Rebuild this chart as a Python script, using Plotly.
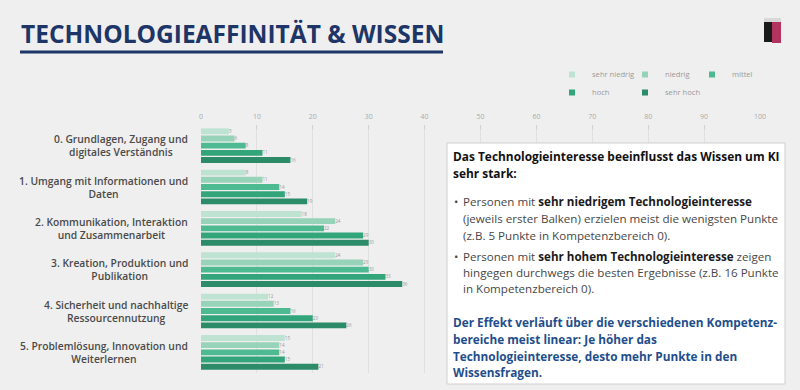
import plotly.graph_objects as go

categories = [
    "0. Grundlagen, Zugang und<br>digitales Verständnis",
    "1. Umgang mit Informationen und<br>Daten",
    "2. Kommunikation, Interaktion<br>und Zusammenarbeit",
    "3. Kreation, Produktion und<br>Publikation",
    "4. Sicherheit und nachhaltige<br>Ressourcennutzung",
    "5. Problemlösung, Innovation und<br>Weiterlernen",
]
levels = ["sehr niedrig", "niedrig", "mittel", "hoch", "sehr hoch"]
sehr_niedrig = [5, 8, 18, 24, 12, 15]
niedrig = [6, 11, 24, 29, 13, 14]
mittel = [8, 14, 22, 30, 16, 14]
hoch = [11, 15, 29, 33, 20, 15]
sehr_hoch = [16, 19, 30, 36, 26, 21]
series = [sehr_niedrig, niedrig, mittel, hoch, sehr_hoch]
colors = ["#bfe3d2", "#97d3b8", "#4dba92", "#33a57b", "#2c8c69"]
x_ticks = list(range(0, 101, 10))

W, H = 800, 390
L, R, T, B = 201, 40, 125, 17
PW, PH = W - L - R, H - T - B

def px(x):
    return (x - L) / PW

def py(y):
    return (H - B - y) / PH

FONT = "Open Sans"
fig = go.Figure()
idx = list(range(len(categories)))
for name, vals, col in zip(levels, series, colors):
    fig.add_trace(go.Bar(
        y=idx, x=vals, orientation="h", name=name, marker_color=col,
        marker_line_width=0, text=vals, textposition="outside",
        textfont=dict(size=7, color="#9a9a9a", family=FONT),
        cliponaxis=False, showlegend=False, hoverinfo="x+name",
    ))

# legend entries (one legend per entry, laid out in two rows)
legend_ids = ["legend", "legend2", "legend3", "legend4", "legend5"]
for name, col, lid in zip(levels, colors, legend_ids):
    fig.add_trace(go.Scatter(
        x=[None], y=[None], mode="markers", name=name,
        marker=dict(symbol="square", size=6, color=col), legend=lid,
    ))

annotations = []
for i, cat in enumerate(categories):
    annotations.append(dict(
        x=px(190), xref="paper", y=i, yref="y", text=cat, showarrow=False,
        xanchor="right", yanchor="middle", align="center",
        font=dict(family=FONT, size=10.3, color="#4a4a4a", weight=600),
    ))

annotations.append(dict(
    x=px(19), xref="paper", y=py(33), yref="paper", text="<b>TECHNOLOGIEAFFINITÄT & WISSEN</b>",
    showarrow=False, xanchor="left", yanchor="middle",
    font=dict(family=FONT, size=24.5, color="#1d3567"),
))

def line(text, x, y, size, color):
    annotations.append(dict(
        x=px(x), xref="paper", y=py(y), yref="paper", text=text,
        showarrow=False, xanchor="left", yanchor="middle", align="left",
        font=dict(family=FONT, size=size, color=color),
    ))

HEAD = "#111111"
BODY = "#474747"
BLUE = "#1f4e8c"
line("<b>Das Technologieinteresse beeinflusst das Wissen um KI</b>", 451, 156, 11.9, HEAD)
line("<b>sehr stark:</b>", 451, 173, 11.9, HEAD)
line("•", 452, 201, 11.6, BODY)
line("Personen mit <b><span style='color:#1a1a1a'>sehr niedrigem Technologieinteresse</span></b>",
     461, 201, 11.6, BODY)
line("(jeweils erster Balken) erzielen meist die wenigsten Punkte", 461, 218, 11.6, BODY)
line("(z.B. 5 Punkte in Kompetenzbereich 0).", 461, 235, 11.6, BODY)
line("•", 452, 256, 11.6, BODY)
line("Personen mit <b><span style='color:#1a1a1a'>sehr hohem Technologieinteresse</span></b> zeigen",
     461, 256, 11.6, BODY)
line("hingegen durchwegs die besten Ergebnisse (z.B. 16 Punkte", 461, 272, 11.6, BODY)
line("in Kompetenzbereich 0).", 461, 288, 11.6, BODY)
line("<b>Der Effekt verläuft über die verschiedenen Kompetenz-</b>", 451, 322, 11.8, BLUE)
line("<b>bereiche meist linear: Je höher das</b>", 451, 339, 11.8, BLUE)
line("<b>Technologieinteresse, desto mehr Punkte in den</b>", 451, 356, 11.8, BLUE)
line("<b>Wissensfragen.</b>", 451, 372, 11.8, BLUE)

shapes = [
    dict(type="line", xref="paper", yref="paper", x0=px(20), x1=px(443), y0=py(52), y1=py(52),
         line=dict(color="#1d3567", width=3)),
    dict(type="rect", xref="paper", yref="paper", x0=px(447), x1=px(785), y0=py(143), y1=py(384),
         fillcolor="white", line=dict(color="#cfcfcf", width=1), layer="above"),
    # logo
    dict(type="rect", xref="paper", yref="paper", x0=px(764), x1=px(772), y0=py(22), y1=py(42),
         fillcolor="#1a1a1a", line=dict(width=0)),
    dict(type="rect", xref="paper", yref="paper", x0=px(772), x1=px(781), y0=py(22), y1=py(43),
         fillcolor="#b2345e", line=dict(width=0)),
    dict(type="rect", xref="paper", yref="paper", x0=px(764), x1=px(781), y0=py(18), y1=py(22),
         fillcolor="#d8d8d8", line=dict(width=0)),
]

legend_style = dict(orientation="h", xanchor="left", yanchor="top",
                    xref="paper", yref="paper", itemwidth=30,
                    font=dict(family=FONT, size=7.6, color="#9a9a9a"), bgcolor="rgba(0,0,0,0)")
legend_pos = [(552, 60), (625, 60), (692, 60), (552, 78), (625, 78)]
legend_layout = {lid: dict(x=px(lx), y=py(ly), **legend_style)
                 for lid, (lx, ly) in zip(legend_ids, legend_pos)}

fig.update_layout(
    width=W, height=H, margin=dict(l=L, r=R, t=T, b=B, autoexpand=False),
    paper_bgcolor="#efefef", plot_bgcolor="rgba(0,0,0,0)",
    barmode="group", bargap=0.13, bargroupgap=0.18,
    xaxis=dict(range=[0, 100], side="top", tickvals=x_ticks, showgrid=True,
               gridcolor="#e0e0e0", gridwidth=1, zeroline=False, showline=False,
               ticks="inside", ticklen=4, tickcolor="#d0d0d0", automargin=False,
               ticklabelstandoff=4,
               tickfont=dict(family=FONT, size=7, color="#aaaaaa")),
    yaxis=dict(range=[5.5, -0.5], showticklabels=False, showgrid=False, zeroline=False,
               automargin=False),
    annotations=annotations, shapes=shapes,
    font=dict(family=FONT),
    **legend_layout,
)

fig.write_html("out.html", config={"displayModeBar": False},
               post_script="document.body.style.margin='0';")
